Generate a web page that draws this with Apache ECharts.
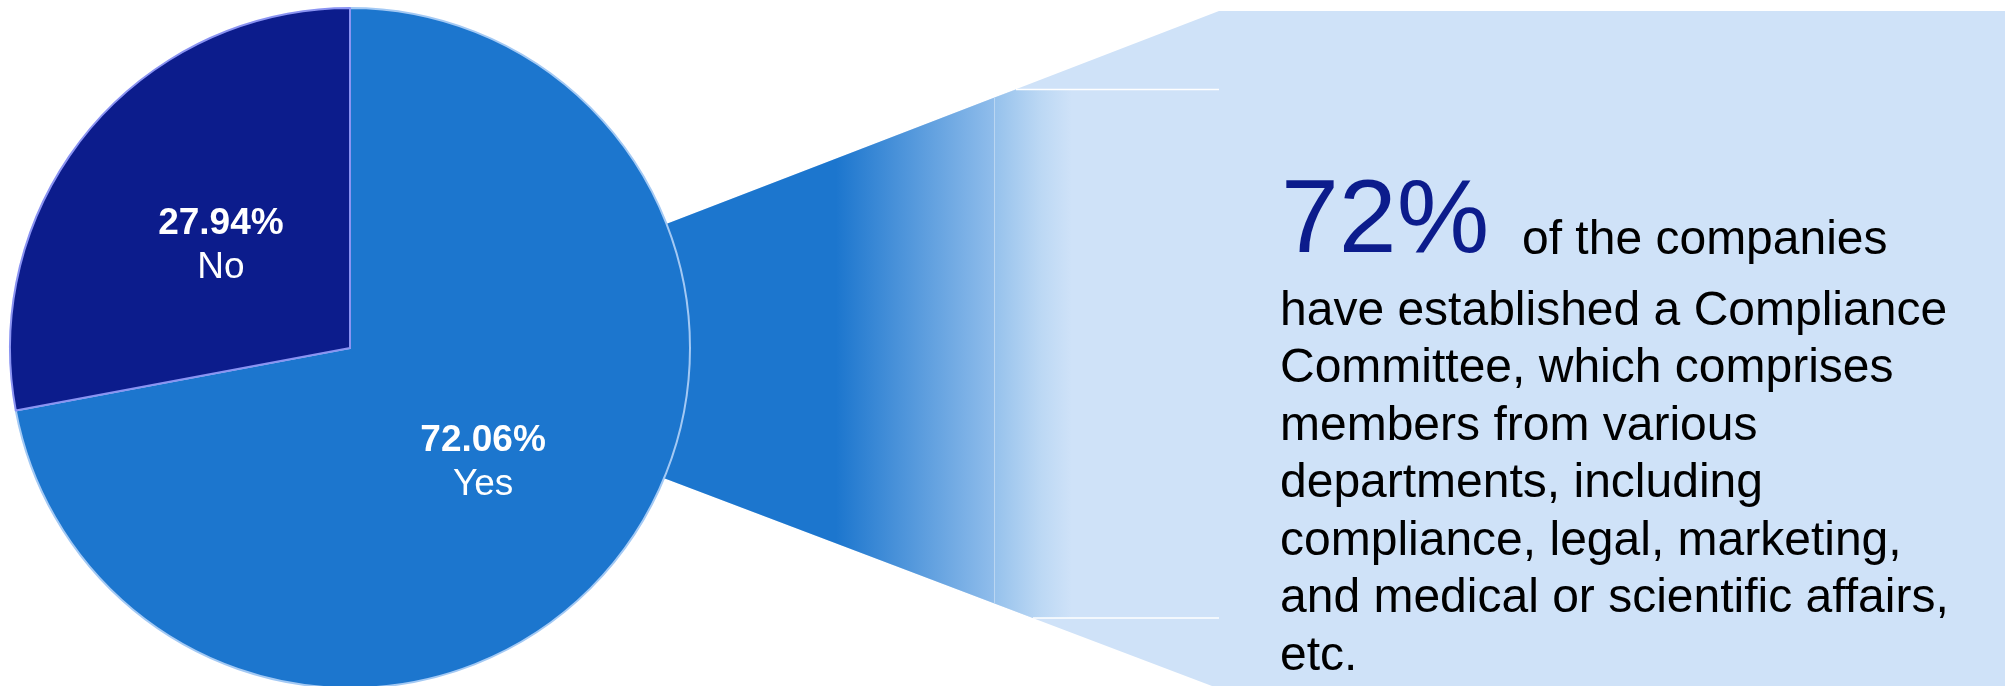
<!DOCTYPE html>
<html>
<head>
<meta charset="utf-8">
<script src="https://cdn.jsdelivr.net/npm/echarts@6/dist/echarts.min.js"></script>
<style>
  html, body { margin: 0; padding: 0; background: #fff; }
  #chart { width: 2005px; height: 686px; }
</style>
</head>
<body>
<div id="chart"></div>
<script>
// pie data
var categories = ['Yes', 'No'];
var values = [72.06, 27.94];
var sliceColors = ['#1c76ce', '#0c1c8c'];
var borderColors = ['#a3c9f4', '#8a93f2'];

// callout text
var headline = Math.round(values[0]) + '%';
var headlineTail = 'of the companies';
var noteLines = [
    'have established a Compliance',
    'Committee, which comprises',
    'members from various',
    'departments, including',
    'compliance, legal, marketing,',
    'and medical or scientific affairs,',
    'etc.'
];

var chart = echarts.init(document.getElementById('chart'));

var font = '"Liberation Sans", Arial, Helvetica, sans-serif';
var light = '#cfe2f8';

// connector from the pie to the text box
var fanGrad = new echarts.graphic.LinearGradient(500, 0, 994, 0, [
    { offset: 0, color: '#1c76ce' },
    { offset: 0.68, color: '#1c76ce' },
    { offset: 1, color: '#90bdeb' }
], true);
var bandGrad = new echarts.graphic.LinearGradient(994, 0, 1072, 0, [
    { offset: 0, color: '#95c1ec' },
    { offset: 0.6, color: '#bcd8f4' },
    { offset: 1, color: light }
], true);

var graphics = [
    {
        type: 'polygon', z: -10, silent: true,
        shape: { points: [[500, 288], [1219, 11], [2005, 11], [2005, 686], [1212, 686], [500, 416]] },
        style: { fill: light }
    },
    {
        type: 'polygon', z: -9, silent: true,
        shape: { points: [[500, 288], [994, 97.8], [994, 603.3], [500, 416]] },
        style: { fill: fanGrad }
    },
    {
        type: 'polygon', z: -9, silent: true,
        shape: { points: [[994, 97.8], [1016, 89.5], [1219, 89.5], [1219, 618], [1033, 618], [994, 603.3]] },
        style: { fill: bandGrad }
    },
    {
        type: 'line', z: -8, silent: true,
        shape: { x1: 994.5, y1: 98, x2: 994.5, y2: 603 },
        style: { stroke: 'rgba(255,255,255,0.35)', lineWidth: 1 }
    },
    {
        type: 'line', z: -8, silent: true,
        shape: { x1: 1016, y1: 89.5, x2: 1219, y2: 89.5 },
        style: { stroke: '#ffffff', lineWidth: 1.5 }
    },
    {
        type: 'line', z: -8, silent: true,
        shape: { x1: 1033, y1: 618, x2: 1219, y2: 618 },
        style: { stroke: '#ffffff', lineWidth: 1.5 }
    },
    {
        type: 'text', z: 10, silent: true,
        x: 1281, y: 257 - 0.32 * 104,
        style: {
            text: headline, fontSize: 104, fontFamily: font,
            fill: '#0c1c8c', verticalAlign: 'middle', align: 'left'
        }
    },
    {
        type: 'text', z: 10, silent: true,
        x: 1522, y: 256 - 0.32 * 48,
        style: {
            text: headlineTail, fontSize: 48, fontFamily: font,
            fill: '#000000', verticalAlign: 'middle', align: 'left'
        }
    }
];

noteLines.forEach(function (line, i) {
    graphics.push({
        type: 'text', z: 10, silent: true,
        x: 1280, y: 327 + i * 57.5 - 0.32 * 48,
        style: {
            text: line, fontSize: 48, fontFamily: font,
            fill: '#000000', verticalAlign: 'middle', align: 'left'
        }
    });
});

// small nudges so the inside labels sit where the reference has them
var labelOffsets = [[0, 4], [4, 8]];

var option = {
    animation: false,
    graphic: graphics,
    series: [{
        type: 'pie',
        center: [350, 348],
        radius: [0, 340],
        startAngle: 90,
        clockwise: true,
        silent: true,
        label: {
            show: true,
            position: 'inside',
            formatter: '{p|{d}%}\n{n|{b}}',
            rich: {
                p: { fontFamily: font, fontSize: 37, fontWeight: 'bold', color: '#fff', lineHeight: 44 },
                n: { fontFamily: font, fontSize: 37, color: '#fff', lineHeight: 44 }
            }
        },
        labelLine: { show: false },
        data: categories.map(function (c, i) {
            return {
                name: c,
                value: values[i],
                label: { offset: labelOffsets[i] },
                itemStyle: { color: sliceColors[i], borderColor: borderColors[i], borderWidth: 2 }
            };
        })
    }]
};

chart.setOption(option);
</script>
</body>
</html>
